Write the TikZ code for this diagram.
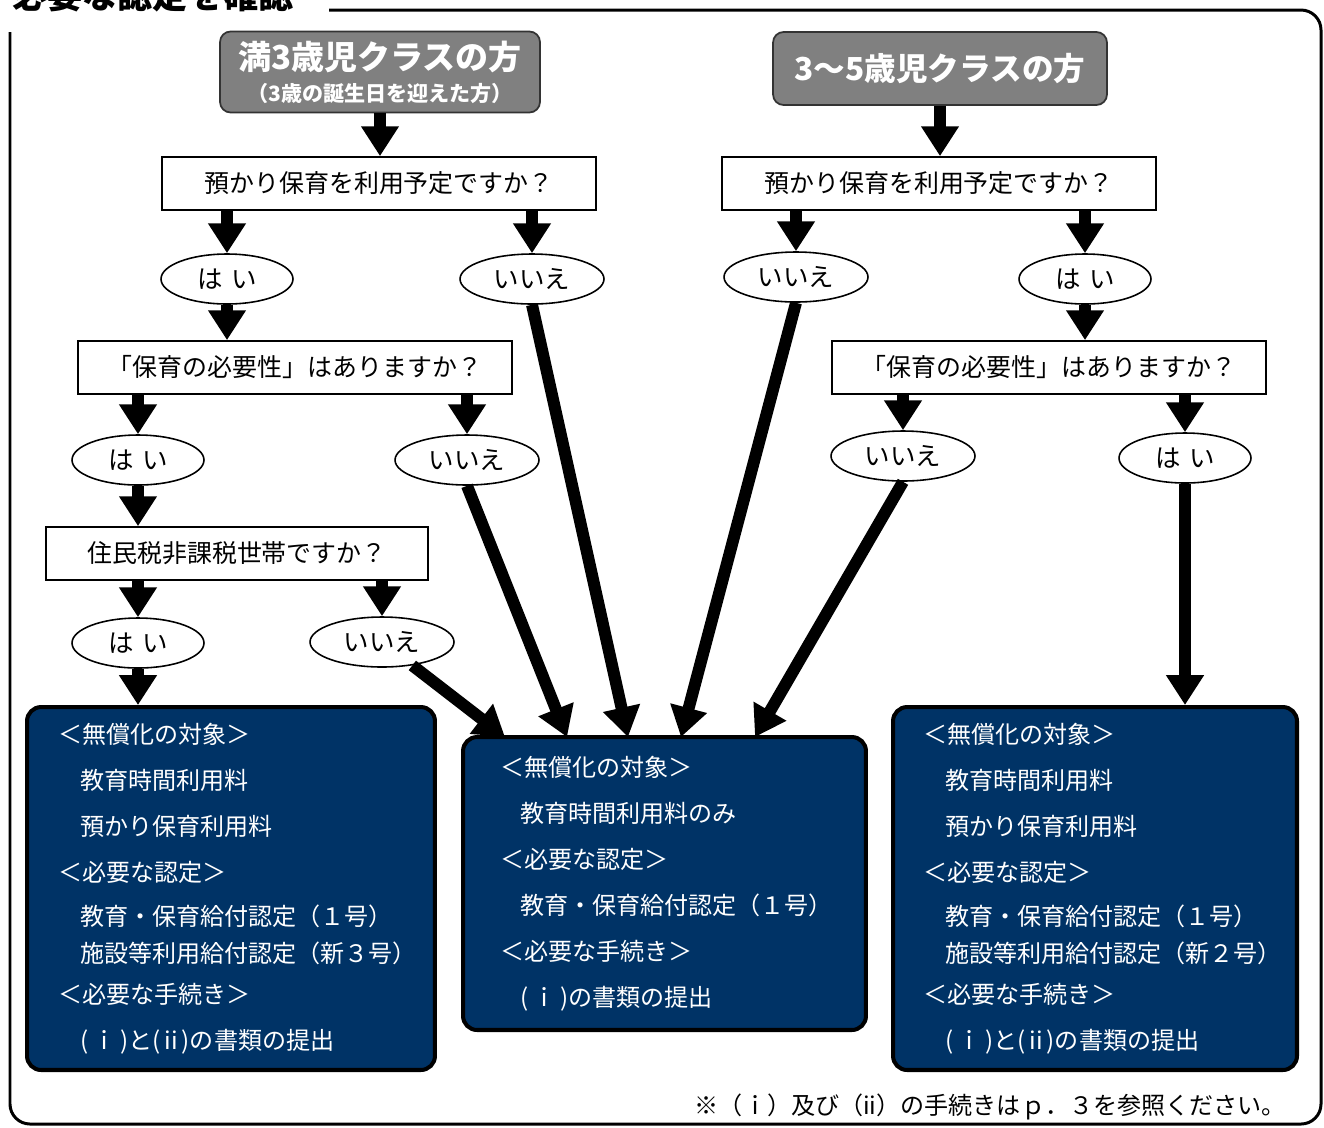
\documentclass[tikz,border=0pt]{standalone}
\usepackage{fontspec}
\setmainfont{Noto Sans CJK JP}
\usepackage{tikz}
\usetikzlibrary{
    positioning,
    arrows.meta,
    calc,
    shapes.geometric
}
\definecolor{navy}{RGB}{0,51,102}
\definecolor{headgray}{RGB}{128,128,128}
\tikzset{
    % 見出しの箱
    header/.style={
        rectangle,
        rounded corners=6pt,
        draw=black!80,
        line width=1pt,
        fill=headgray,
        text=white,
        align=center,
        inner sep=0pt
    },
    % 質問の箱
    question/.style={
        rectangle,
        draw=black,
        line width=1pt,
        fill=white,
        minimum height=1.06cm,
        inner sep=0pt,
        font=\fontsize{14.2pt}{17pt}\selectfont
    },
    % はい・いいえ
    answer/.style={
        ellipse,
        draw=black,
        line width=0.9pt,
        fill=white,
        minimum height=1.0cm,
        minimum width=2.64cm,
        inner sep=0pt,
        font=\fontsize{14.5pt}{17pt}\selectfont
    },
    % 結果の箱
    result/.style={
        rectangle,
        rounded corners=8pt,
        draw=black,
        line width=2.3pt,
        fill=navy,
        text=white,
        align=left,
        font=\fontsize{13.7pt}{26.2pt}\selectfont
    },
    % 太い矢印
    arrow/.style={
        -{Triangle[length=17pt, width=20.5pt]},
        line width=6.8pt,
        black
    }
}

\begin{document}
\begin{tikzpicture}[x=0.02cm, y=-0.02cm]
    \useasboundingbox (0,0) rectangle (1324,1127);
    % Frame
    \draw[line width=1.7pt, rounded corners=0.4cm] (10,10) rectangle (1321,1124);
    \node[anchor=west, fill=white, inner xsep=0.24cm, text width=6.1cm, align=left,
          minimum height=1.48cm, font=\fontsize{20pt}{24pt}\selectfont\bfseries] (ttl) at (0,-5) {必要な認定を確認};

    % Headers
    \node[header, minimum width=6.4cm, minimum height=1.62cm] (h1) at (380,72)
        {\fontsize{18.8pt}{22pt}\selectfont\bfseries 満3歳児クラスの方\\[5pt]\fontsize{12pt}{14pt}\selectfont\bfseries （3歳の誕生日を迎えた方）};
    \node[header, minimum width=6.68cm, minimum height=1.46cm,
          font=\fontsize{18pt}{22pt}\selectfont\bfseries] (h2) at (940,68.5) {3〜5歳児クラスの方};

    % Questions
    \node[question, minimum width=8.68cm] (q1L) at (379,183.5) {預かり保育を利用予定ですか？};
    \node[question, minimum width=8.68cm] (q1R) at (939,183.5) {預かり保育を利用予定ですか？};
    \node[question, minimum width=8.68cm] (q2L) at (295,367.5) {「保育の必要性」はありますか？};
    \node[question, minimum width=8.68cm] (q2R) at (1049,367.5) {「保育の必要性」はありますか？};
    \node[question, minimum width=7.64cm] (q3L) at (237,553.5) {住民税非課税世帯ですか？};

    % Answers
    \node[answer] (yL1) at (227,279) {は\hspace{0.35em}い};
    \node[answer, minimum width=2.88cm] (noL1) at (532,279) {いいえ};
    \node[answer, minimum width=2.88cm] (noR1) at (796,277) {いいえ};
    \node[answer] (yR1) at (1085,279) {は\hspace{0.35em}い};
    \node[answer] (yL2) at (138,460) {は\hspace{0.35em}い};
    \node[answer, minimum width=2.88cm] (noL2) at (467,460) {いいえ};
    \node[answer, minimum width=2.88cm] (noR2) at (903,456) {いいえ};
    \node[answer] (yR2) at (1185,458) {は\hspace{0.35em}い};
    \node[answer] (yL3) at (138,643) {は\hspace{0.35em}い};
    \node[answer, minimum width=2.88cm] (noL3) at (382,642) {いいえ};

    % Results
    \node[result, inner xsep=0.62cm, text width=6.92cm, minimum height=7.26cm] (resL) at (231,888.5) {%
        ＜無償化の対象＞\\
        \hspace*{0.44cm}教育時間利用料\\
        \hspace*{0.44cm}預かり保育利用料\\
        ＜必要な認定＞\\[-1pt]
        \hspace*{0.44cm}教育・保育給付認定（１号）\\[-5pt]
        \hspace*{0.44cm}施設等利用給付認定（新３号）\\[-3pt]
        ＜必要な手続き＞\\
        \hspace*{0.44cm}(\,ｉ\,)と(\,ii\,)の書類の提出};
    \node[result, inner xsep=0.74cm, text width=6.58cm, minimum height=5.86cm] (resM) at (664.5,883.5) {%
        ＜無償化の対象＞\\
        \hspace*{0.4cm}教育時間利用料のみ\\
        ＜必要な認定＞\\
        \hspace*{0.4cm}教育・保育給付認定（１号）\\
        ＜必要な手続き＞\\
        \hspace*{0.4cm}(\,ｉ\,)の書類の提出};
    \node[result, inner xsep=0.6cm, text width=6.88cm, minimum height=7.26cm] (resR) at (1095,888.5) {%
        ＜無償化の対象＞\\
        \hspace*{0.44cm}教育時間利用料\\
        \hspace*{0.44cm}預かり保育利用料\\
        ＜必要な認定＞\\[-1pt]
        \hspace*{0.44cm}教育・保育給付認定（１号）\\[-5pt]
        \hspace*{0.44cm}施設等利用給付認定（新２号）\\[-3pt]
        ＜必要な手続き＞\\
        \hspace*{0.44cm}(\,ｉ\,)と(\,ii\,)の書類の提出};

    % Note
    \node[anchor=east, font=\fontsize{13.7pt}{16pt}\selectfont] (note) at (1292,1107)
        {※（ｉ）及び（ii）の手続きはｐ．３を参照ください。};

    % Arrows (left)
    \draw[arrow] (h1.south) -- (h1.south |- q1L.north);
    \draw[arrow] (q1L.south -| yL1) -- (yL1.north);
    \draw[arrow] (q1L.south -| noL1) -- (noL1.north);
    \draw[arrow] (yL1.south) -- (yL1.south |- q2L.north);
    \draw[arrow] (q2L.south -| yL2) -- (yL2.north);
    \draw[arrow] (q2L.south -| noL2) -- (noL2.north);
    \draw[arrow] (yL2.south) -- (yL2.south |- q3L.north);
    \draw[arrow] (q3L.south -| yL3) -- (yL3.north);
    \draw[arrow] (q3L.south -| noL3) -- (noL3.north);
    \draw[arrow] (yL3.south) -- (yL3.south |- resL.north);

    % Arrows (right)
    \draw[arrow] (h2.south) -- (h2.south |- q1R.north);
    \draw[arrow] (q1R.south -| noR1) -- (noR1.north);
    \draw[arrow] (q1R.south -| yR1) -- (yR1.north);
    \draw[arrow] (yR1.south) -- (yR1.south |- q2R.north);
    \draw[arrow] (q2R.south -| noR2) -- (noR2.north);
    \draw[arrow] (q2R.south -| yR2) -- (yR2.north);
    \draw[arrow] (yR2.south) -- (yR2.south |- resR.north);

    % Arrows into the middle box
    \coordinate (mA) at (505,737);
    \coordinate (mB) at (567,737);
    \coordinate (mC) at (628,737);
    \coordinate (mD) at (681,737);
    \coordinate (mE) at (755,737);
    \draw[arrow] (noL3) -- (mA);
    \draw[arrow] (noL2.south) -- (mB);
    \draw[arrow] (noL1.south) -- (mC);
    \draw[arrow] (noR1.south) -- (mD);
    \draw[arrow] (noR2.south) -- (mE);
\end{tikzpicture}
\end{document}
